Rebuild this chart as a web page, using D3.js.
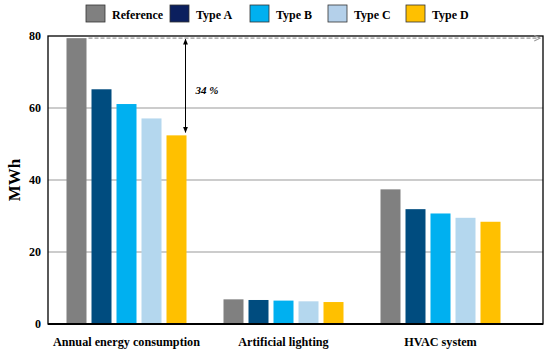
<!DOCTYPE html>
<html>
  <head>
    <meta charset="utf-8">
    <script src="https://cdnjs.cloudflare.com/ajax/libs/d3/7.8.5/d3.min.js"></script>
    <style>
      body { margin: 0; background: #fff; }
      text { font-family: "Liberation Serif", "Times New Roman", serif; font-weight: bold; }
    </style>
  </head>
  <body>
    <div id="vis"></div>
    <script>
      var categories = ['Annual energy consumption', 'Artificial lighting', 'HVAC system']
      var series = ['Reference', 'Type A', 'Type B', 'Type C', 'Type D']
      var reference = [79.4, 6.85, 37.4]
      var typeA = [65.2, 6.67, 31.9]
      var typeB = [61.1, 6.5, 30.7]
      var typeC = [57.1, 6.3, 29.5]
      var typeD = [52.4, 6.1, 28.4]
      var yTicks = [0, 20, 40, 60, 80]

      var values = [reference, typeA, typeB, typeC, typeD]
      var barColors = ['#808080', '#004c7f', '#00b0f0', '#b4d7ee', '#ffc000']
      var legendColors = ['#808080', '#0b1f5e', '#00b0f0', '#b4d0ea', '#ffc000']

      var W = 550, H = 354
      var pL = 48, pR = 543, pT = 36, pB = 324

      var svg = d3.select('#vis').append('svg').attr('width', W).attr('height', H)

      var y = d3.scaleLinear().domain([0, 80]).range([pB, pT])
      var x0 = d3.scaleBand().domain(categories).range([48, 519])
      var x1 = d3.scaleBand().domain(series).range([0, 120]).paddingInner(0.2)

      // grid
      svg.selectAll('line.grid').data(yTicks.slice(1, -1)).enter()
        .append('line')
        .attr('x1', pL).attr('x2', pR)
        .attr('y1', function(d){ return y(d); }).attr('y2', function(d){ return y(d); })
        .attr('stroke', '#9a9a9a').attr('stroke-width', 1.2)

      // bars
      var groups = svg.selectAll('g.cat').data(categories).enter()
        .append('g')
        .attr('transform', function(d){ return 'translate(' + (x0(d) + x0.bandwidth() / 2 - 60) + ',0)'; })

      groups.selectAll('rect').data(function(d, i){
          return series.map(function(s, j){ return { s: s, v: values[j][i], j: j }; });
        }).enter()
        .append('rect')
        .attr('x', function(d){ return x1(d.s); })
        .attr('y', function(d){ return y(d.v); })
        .attr('width', x1.bandwidth())
        .attr('height', function(d){ return pB - y(d.v); })
        .attr('fill', function(d){ return barColors[d.j]; })

      // frame
      svg.append('rect')
        .attr('x', pL).attr('y', pT)
        .attr('width', pR - pL).attr('height', pB - pT)
        .attr('fill', 'none').attr('stroke', '#000').attr('stroke-width', 1.3)
      svg.append('line')
        .attr('x1', pL).attr('x2', pR).attr('y1', pB).attr('y2', pB)
        .attr('stroke', '#000').attr('stroke-width', 2)

      // y axis labels
      svg.selectAll('text.ytick').data(yTicks).enter()
        .append('text')
        .attr('x', 41).attr('y', function(d){ return y(d) + 4; })
        .attr('text-anchor', 'end').attr('font-size', 12)
        .text(function(d){ return d; })

      svg.append('text')
        .attr('transform', 'translate(20,' + ((pT + pB) / 2) + ') rotate(-90)')
        .attr('text-anchor', 'middle').attr('font-size', 17)
        .text('MWh')

      // category labels
      svg.selectAll('text.cat').data(categories).enter()
        .append('text')
        .attr('x', function(d){ return x0(d) + x0.bandwidth() / 2; })
        .attr('y', 346)
        .attr('text-anchor', 'middle').attr('font-size', 12.2)
        .text(function(d){ return d; })

      // reference dashed line + arrow
      var defs = svg.append('defs')
      defs.append('marker').attr('id', 'open').attr('viewBox', '0 0 10 10')
        .attr('refX', 9).attr('refY', 5).attr('markerWidth', 6).attr('markerHeight', 6).attr('orient', 'auto')
        .append('path').attr('d', 'M1,1 L9,5 L1,9').attr('fill', 'none').attr('stroke', '#999').attr('stroke-width', 1.5)
      defs.append('marker').attr('id', 'solid').attr('viewBox', '0 0 10 10')
        .attr('refX', 9).attr('refY', 5).attr('markerWidth', 6).attr('markerHeight', 6).attr('orient', 'auto-start-reverse')
        .append('path').attr('d', 'M0,1 L10,5 L0,9 Z').attr('fill', '#000')

      var g0 = x0(categories[0]) + x0.bandwidth() / 2 - 60
      svg.append('line')
        .attr('x1', g0 + x1('Reference') + x1.bandwidth() + 2).attr('x2', 540)
        .attr('y1', y(reference[0])).attr('y2', y(reference[0]))
        .attr('stroke', '#999').attr('stroke-width', 1.2).attr('stroke-dasharray', '4,2')
        .attr('marker-end', 'url(#open)')

      var ax = g0 + x1('Type D') + x1.bandwidth() - 1
      svg.append('line')
        .attr('x1', ax).attr('x2', ax)
        .attr('y1', y(reference[0]) + 1).attr('y2', y(typeD[0]) - 3)
        .attr('stroke', '#000').attr('stroke-width', 1)
        .attr('marker-start', 'url(#solid)').attr('marker-end', 'url(#solid)')

      svg.append('text')
        .attr('x', ax + 10).attr('y', 94)
        .attr('font-size', 11).attr('font-style', 'italic')
        .text(Math.round((1 - typeD[0] / reference[0]) * 100) + ' %')

      // legend
      var legendX = [86, 170, 250, 328, 406]
      var lg = svg.selectAll('g.leg').data(series).enter()
        .append('g')
        .attr('transform', function(d, i){ return 'translate(' + legendX[i] + ',5)'; })
      lg.append('rect')
        .attr('width', 19).attr('height', 17)
        .attr('fill', function(d, i){ return legendColors[i]; })
        .attr('stroke', '#333').attr('stroke-width', 0.8)
      lg.append('text')
        .attr('x', 26).attr('y', 14).attr('font-size', 12)
        .text(function(d){ return d; })
    </script>
  </body>
</html>
